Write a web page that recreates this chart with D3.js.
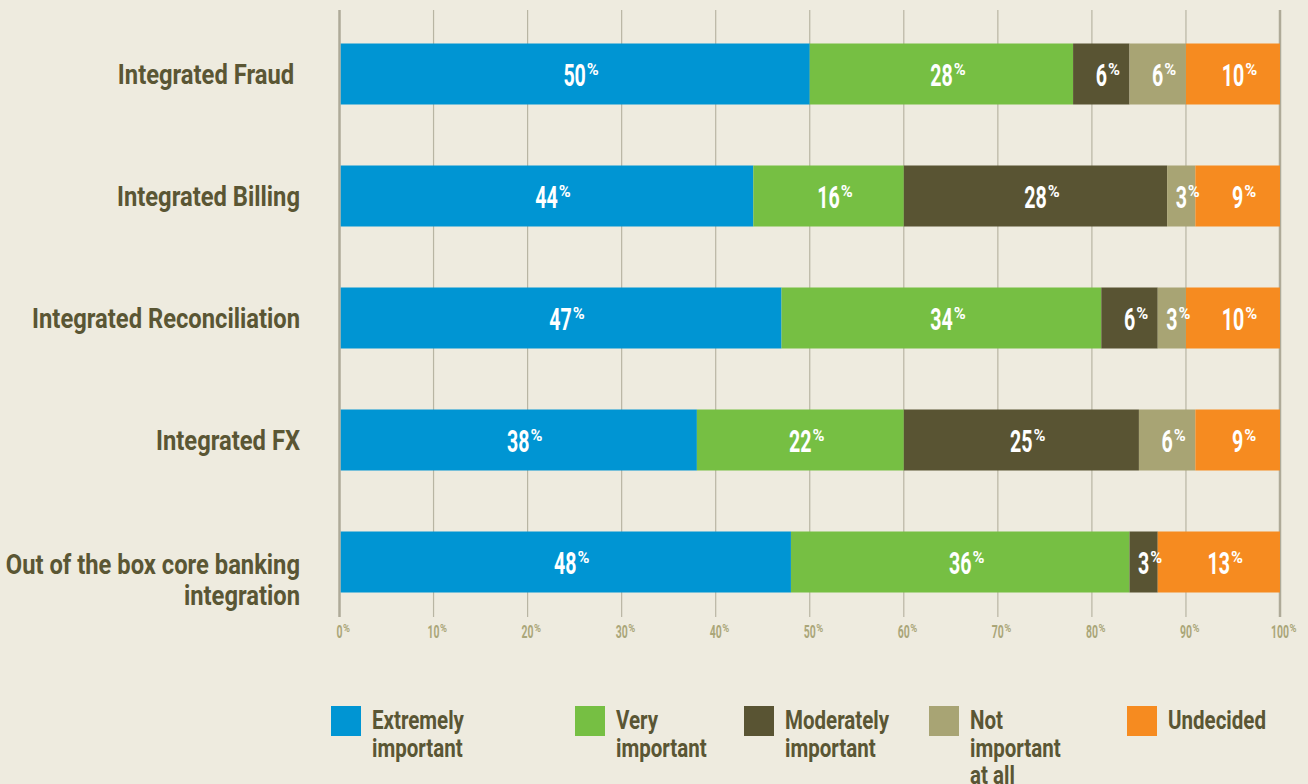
<!DOCTYPE html>
<html>
<head>
<meta charset="utf-8">
<script src="https://cdn.jsdelivr.net/npm/d3@7"></script>
<style>
  html, body { margin: 0; padding: 0; background: #eeebdf; }
  svg { display: block; }
  text { font-family: Roboto, "Liberation Sans", sans-serif; font-weight: 700; }
</style>
</head>
<body>
<svg id="chart" width="1308" height="784"></svg>
<script>
// Survey rows (top to bottom) and their label lines
const categories = [
  "Integrated Fraud",
  "Integrated Billing",
  "Integrated Reconciliation",
  "Integrated FX",
  "Out of the box core banking integration"
];
const categoryLines = [
  ["Integrated Fraud "],
  ["Integrated Billing"],
  ["Integrated Reconciliation"],
  ["Integrated FX"],
  ["Out of the box core banking", "integration"]
];

// Response levels
const seriesNames = ["Extremely important", "Very important", "Moderately important", "Not important at all", "Undecided"];
const legendLines = [["Extremely", "important"], ["Very", "important"], ["Moderately", "important"], ["Not", "important", "at all"], ["Undecided"]];
const seriesColors = ["#0095d3", "#76bf43", "#595433", "#a8a474", "#f68b20"];

// Share of respondents (%) per level, one array per level, in category order
const extremelyImportant  = [50, 44, 47, 38, 48];
const veryImportant       = [28, 16, 34, 22, 36];
const moderatelyImportant = [6, 28, 6, 25, 3];
const notImportant        = [6, 3, 3, 6, 0];
const undecided           = [10, 9, 10, 9, 13];
const seriesValues = [extremelyImportant, veryImportant, moderatelyImportant, notImportant, undecided];

const tickValues = [0, 10, 20, 30, 40, 50, 60, 70, 80, 90, 100];

const svg = d3.select("#chart");
const x = d3.scaleLinear().domain([0, 100]).range([339.5, 1280]);
const y = d3.scaleBand().domain(categories).range([13, 623]).paddingInner(0.5).paddingOuter(0.25);

const labelColor = "#5a5634";
const tickColor = "#aaa679";

// Horizontal squeeze factor so a sample string set at `size` spans `target` px
function squeeze(sample, size, target) {
  const t = svg.append("text").attr("font-size", size).text(sample);
  const w = t.node().getComputedTextLength();
  t.remove();
  return target / w;
}
const catSq = squeeze("Integrated Reconciliation", 28, 268);
const legSq = squeeze("Extremely", 25, 92);
const valSq = squeeze("10", 32, 22.5);
const valPctSq = squeeze("%", 17, 12);
const tickSq = squeeze("10", 18, 12);
const tickPctSq = squeeze("%", 10, 7);

// Vertical grid lines
svg.append("g").selectAll("line")
  .data(tickValues)
  .join("line")
  .attr("x1", d => x(d)).attr("x2", d => x(d))
  .attr("y1", 10).attr("y2", 617)
  .attr("stroke", d => (d === 0 || d === 100) ? "#aeaa98" : "#b8b5a3")
  .attr("stroke-width", d => (d === 0 || d === 100) ? 2.5 : 1.2);

// Percent label: number centred on the anchor, small raised "%" trailing it
function percentLabel(g, value, size, sq, pctSize, pctSq, color, gap) {
  const num = g.append("text")
    .attr("transform", `scale(${sq},1)`)
    .attr("text-anchor", "middle")
    .attr("font-size", size)
    .attr("fill", color)
    .text(value);
  const w = num.node().getComputedTextLength() * sq;
  g.append("text")
    .attr("transform", `translate(${w / 2 + gap},${-size * 0.711 + pctSize * 0.711}) scale(${pctSq},1)`)
    .attr("font-size", pctSize)
    .attr("fill", color)
    .text("%");
}

// Tick labels
svg.append("g").selectAll("g")
  .data(tickValues)
  .join("g")
  .attr("transform", d => `translate(${x(d)},638)`)
  .each(function(d) { percentLabel(d3.select(this), d, 18, tickSq, 10, tickPctSq, tickColor, 0.5); });

// Stacked segments
const stackData = categories.map((c, i) => {
  const row = { category: c };
  seriesNames.forEach((s, k) => { row[s] = seriesValues[k][i]; });
  return row;
});
const stacked = d3.stack().keys(seriesNames)(stackData);

const layers = svg.append("g").selectAll("g")
  .data(stacked)
  .join("g")
  .attr("fill", (d, i) => seriesColors[i]);

layers.selectAll("rect")
  .data(d => d)
  .join("rect")
  .attr("x", d => x(d[0]) + (d[0] === 0 ? 1.25 : 0))
  .attr("width", d => Math.max(0, x(d[1]) - x(d[0]) - (d[0] === 0 ? 1.25 : 0)))
  .attr("y", d => y(d.data.category))
  .attr("height", y.bandwidth());

// Value labels
const valueLabels = [];
stacked.forEach(layer => {
  layer.forEach(d => {
    const v = d[1] - d[0];
    if (v > 0) valueLabels.push({ v, cx: x((d[0] + d[1]) / 2), cy: y(d.data.category) + y.bandwidth() / 2 });
  });
});
svg.append("g").selectAll("g")
  .data(valueLabels)
  .join("g")
  .attr("transform", d => `translate(${d.cx},${d.cy + 11.5})`)
  .each(function(d) { percentLabel(d3.select(this), d.v, 32, valSq, 17, valPctSq, "#ffffff", 1); });

// Category labels, right aligned; first line sits on the bar's centre line
svg.append("g").selectAll("g")
  .data(categories)
  .join("g")
  .attr("transform", (d, i) => {
    const n = categoryLines[i].length;
    return `translate(300,${y(d) + y.bandwidth() / 2 + (n > 1 ? 12 : 10)})`;
  })
  .each(function(d, i) {
    d3.select(this).selectAll("text")
      .data(categoryLines[i])
      .join("text")
      .attr("transform", (t, j) => `translate(0,${j * 31}) scale(${catSq},1)`)
      .attr("text-anchor", "end")
      .attr("font-size", 28)
      .attr("fill", labelColor)
      .attr("xml:space", "preserve")
      .text(t => t);
  });

// Legend
const legendX = [331, 575, 744, 929, 1127];
const lg = svg.append("g").selectAll("g")
  .data(seriesNames)
  .join("g")
  .attr("transform", (d, i) => `translate(${legendX[i]},706)`);
lg.append("rect")
  .attr("width", 30).attr("height", 30)
  .attr("fill", (d, i) => seriesColors[i]);
lg.each(function(d, i) {
  d3.select(this).selectAll("text")
    .data(legendLines[i])
    .join("text")
    .attr("transform", (t, j) => `translate(41,${23 + j * 27.5}) scale(${legSq},1)`)
    .attr("font-size", 25)
    .attr("fill", labelColor)
    .text(t => t);
});
</script>
</body>
</html>
